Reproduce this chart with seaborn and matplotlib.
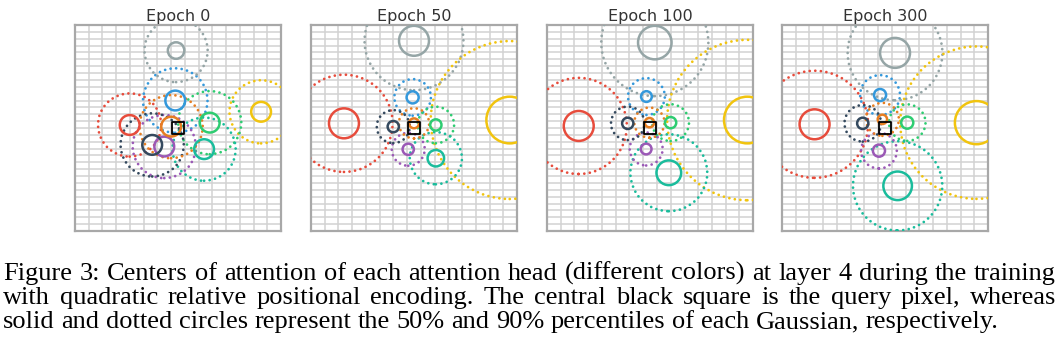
import numpy as np
import matplotlib
matplotlib.use("Agg")
import matplotlib.pyplot as plt
import seaborn as sns
from matplotlib.patches import Circle

# ---------------- data ----------------
epochs = ["Epoch 0", "Epoch 50", "Epoch 100", "Epoch 300"]
heads = ["red", "blue", "gray", "yellow", "green", "teal", "purple", "navy", "orange"]
head_colors = ["#e74c3c", "#3498db", "#95a5a6", "#f1c40f", "#2ecc71",
               "#1abc9c", "#9b59b6", "#34495e", "#e67e22"]

# centers (x, y) in pixels relative to query pixel, radii of 50% / 90% circles
cx_e0 = [-3.52, -0.20, -0.14, 6.05, 2.31, 1.90, -1.00, -1.88, -0.50]
cy_e0 = [0.22, 2.00, 5.64, 1.18, 0.39, -1.54, -1.35, -1.23, 0.10]
r50_e0 = [0.72, 0.72, 0.60, 0.72, 0.72, 0.72, 0.72, 0.72, 0.72]
r90_e0 = [2.30, 2.35, 2.30, 2.30, 2.30, 2.30, 2.30, 2.30, 2.30]

cx_e50 = [-5.10, -0.10, 0.00, 6.97, 1.59, 1.59, -0.42, -1.51, 0.00]
cy_e50 = [0.34, 2.23, 6.35, 0.58, 0.22, -2.20, -1.55, 0.10, 0.34]
r50_e50 = [1.09, 0.44, 1.09, 1.70, 0.41, 0.60, 0.41, 0.41, 0.36]
r90_e50 = [3.54, 1.33, 3.60, 5.75, 1.33, 1.90, 1.20, 1.20, 1.10]

cx_e100 = [-5.19, -0.26, 0.35, 7.09, 1.50, 1.37, -0.28, -1.62, -0.04]
cy_e100 = [0.15, 2.29, 6.22, 0.58, 0.39, -3.26, -1.53, 0.34, 0.39]
r50_e100 = [1.09, 0.39, 1.22, 1.70, 0.41, 0.90, 0.39, 0.41, 0.34]
r90_e100 = [3.50, 1.34, 3.90, 5.84, 1.34, 2.80, 1.20, 1.22, 1.10]

cx_e300 = [-5.13, -0.36, 0.73, 6.66, 1.62, 0.92, -0.44, -1.62, -0.19]
cy_e300 = [0.27, 2.40, 5.47, 0.39, 0.39, -4.21, -1.65, 0.34, 0.63]
r50_e300 = [1.09, 0.44, 1.09, 1.57, 0.44, 1.04, 0.44, 0.41, 0.34]
r90_e300 = [3.90, 1.45, 3.45, 5.55, 1.33, 3.25, 1.30, 1.33, 1.20]

query_x = [0.0]
query_y = [0.0]

caption_lines = [
    "Figure 3: Centers of attention of each attention head (different colors) at layer 4 during the training",
    "with quadratic relative positional encoding.  The central black square is the query pixel, whereas",
    "solid and dotted circles represent the 50% and 90% percentiles of each Gaussian, respectively.",
]

panels = [
    (cx_e0, cy_e0, r50_e0, r90_e0),
    (cx_e50, cy_e50, r50_e50, r90_e50),
    (cx_e100, cy_e100, r50_e100, r90_e100),
    (cx_e300, cy_e300, r50_e300, r90_e300),
]

# ---------------- figure ----------------
sns.set_theme(style="whitegrid")
W, H = 1060, 354
fig = plt.figure(figsize=(W / 100, H / 100), dpi=100)
fig.patch.set_facecolor("white")

lefts = [75, 311, 547, 782]
ax_w, ax_h = 206, 206
ax_top = 25

half = 7.5
for i, (title, (cx, cy, r50, r90)) in enumerate(zip(epochs, panels)):
    ax = fig.add_axes([lefts[i] / W, (H - ax_top - ax_h) / H, ax_w / W, ax_h / H])
    ax.set_facecolor("white")
    ax.set_xlim(-half, half)
    ax.set_ylim(-half, half)
    ax.set_xticks(np.arange(-half, half + 0.01, 1.0))
    ax.set_yticks(np.arange(-half, half + 0.01, 0.5))
    ax.set_xticklabels([])
    ax.set_yticklabels([])
    ax.tick_params(length=0)
    ax.grid(True, color="#d2d2d2", linewidth=1.1)
    for sp in ax.spines.values():
        sp.set_visible(True)
        sp.set_color("#a8a8a8")
        sp.set_linewidth(1.6)
    ax.set_title(title, fontsize=11.5, color="#333333", pad=3)

    for x, y, a, b, c in zip(cx, cy, r50, r90, head_colors):
        dotted = Circle((x, y), b, fill=False, edgecolor=c, linewidth=2.0,
                        linestyle=(0, (0.01, 2.0)), capstyle="round", zorder=3)
        ax.add_patch(dotted)
        solid = Circle((x, y), a, fill=False, edgecolor=c, linewidth=1.8, zorder=4)
        ax.add_patch(solid)

    sns.scatterplot(x=query_x, y=query_y, marker="s", s=85, facecolor="none",
                    edgecolor="black", linewidth=1.3, ax=ax, zorder=5, legend=False)
    ax.set_aspect("auto")

# ---------------- caption (justified) ----------------
fig.canvas.draw()
renderer = fig.canvas.get_renderer()
cap_font = "Liberation Serif"
x0, x1 = 3, 1056
last_line_end = 1000
baselines = [280, 304, 328]

# fit the font size so the (unjustified) last line spans like the reference
probe = fig.text(0, 0, caption_lines[2], fontsize=10, family=cap_font)
probe_w = probe.get_window_extent(renderer).width
probe.remove()
cap_fs = 10 * (last_line_end - x0) / probe_w

for li, (line, yb) in enumerate(zip(caption_lines, baselines)):
    words = line.split()
    texts = [fig.text(0, 1 - yb / H, w, fontsize=cap_fs, family=cap_font,
                      color="black", va="baseline", ha="left") for w in words]
    widths = [t.get_window_extent(renderer).width for t in texts]
    if li < 2:
        gap = (x1 - x0 - sum(widths)) / (len(words) - 1)
    else:
        gap = 0.25 * cap_fs * 100 / 72
    x = x0
    for t, w in zip(texts, widths):
        t.set_x(x / W)
        x += w + gap

fig.savefig("out.png", dpi=100, facecolor="white")
